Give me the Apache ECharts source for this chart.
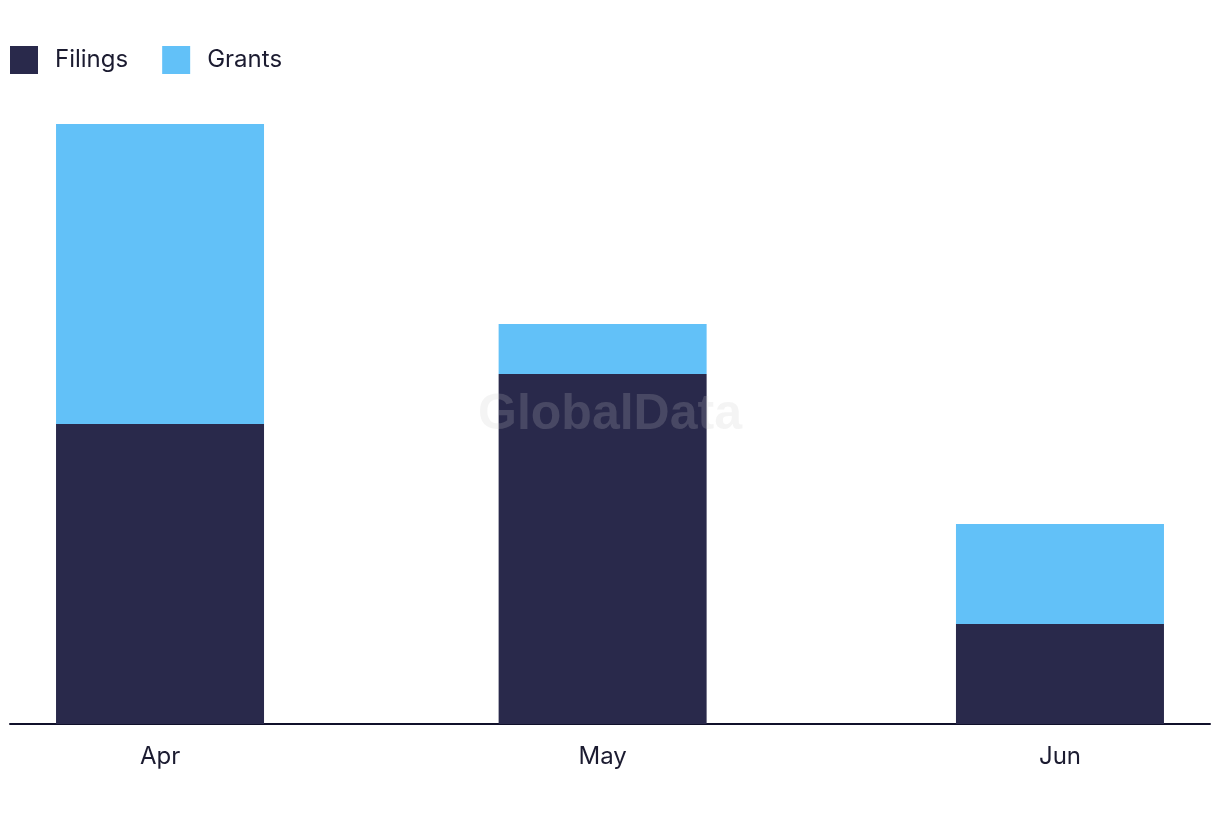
<!DOCTYPE html>
<html>
<head>
<meta charset="utf-8">
<script src="https://cdn.jsdelivr.net/npm/echarts@6/dist/echarts.min.js"></script>
<style>html,body{margin:0;padding:0;background:#fff}#c{width:1220px;height:822px}</style>
</head>
<body>
<div id="c"></div>
<script>
var months = ['Apr', 'May', 'Jun'];
var monthStarts = ['2024-04-01', '2024-05-01', '2024-06-01'];
var filings = [6, 7, 2];
var grants = [6, 1, 2];

function ts(s) { var p = s.split('-'); return new Date(+p[0], +p[1] - 1, +p[2]).getTime(); }
var times = monthStarts.map(ts);
var DAY = 86400000;
var chart = echarts.init(document.getElementById('c'));
function pts(vals) { return vals.map(function (v, i) { return [times[i], v]; }); }
var font = 'Inter, "Noto Sans", sans-serif';
chart.setOption({
  animation: false,
  legend: {
    left: 5, top: 41, itemWidth: 28, itemHeight: 28, itemGap: 34,
    icon: 'rect',
    textStyle: { fontSize: 24, color: '#1b1b30', fontFamily: font, padding: [0, 0, 0, 12] },
    data: ['Filings', 'Grants']
  },
  grid: { left: 10, right: 10, top: 124, bottom: 98, containLabel: false },
  xAxis: {
    // ECharts widens a bar base axis by the bar width, so the extent is set inside that
    type: 'time', min: times[0] - 3.12 * DAY, max: times[2] + 3.12 * DAY,
    splitNumber: 3,
    splitLine: { show: false },
    axisLine: { show: true, lineStyle: { color: '#10102a', width: 2 } },
    axisTick: { show: false },
    axisLabel: {
      showMinLabel: false, showMaxLabel: false, hideOverlap: false,
      formatter: function (v) {
        var i = -1;
        for (var k = 0; k < times.length; k++) { if (Math.abs(times[k] - v) < DAY / 2) i = k; }
        return i >= 0 ? months[i] : '';
      },
      fontSize: 24, color: '#1b1b30', fontFamily: font, margin: 21
    }
  },
  yAxis: { type: 'value', min: 0, max: 12, show: false, splitLine: { show: false } },
  series: [
    { name: 'Filings', type: 'bar', stack: 't', barWidth: 208, itemStyle: { color: '#29294b' }, data: pts(filings) },
    { name: 'Grants', type: 'bar', stack: 't', barWidth: 208, itemStyle: { color: '#62c1f8' }, data: pts(grants) }
  ],
  graphic: [{
    type: 'text', left: 'center', top: 390, z: 100,
    style: { text: 'GlobalData', font: 'bold 50px "Liberation Sans", Arial, sans-serif', fill: 'rgba(200,200,200,0.2)' }
  }]
});
</script>
</body>
</html>
